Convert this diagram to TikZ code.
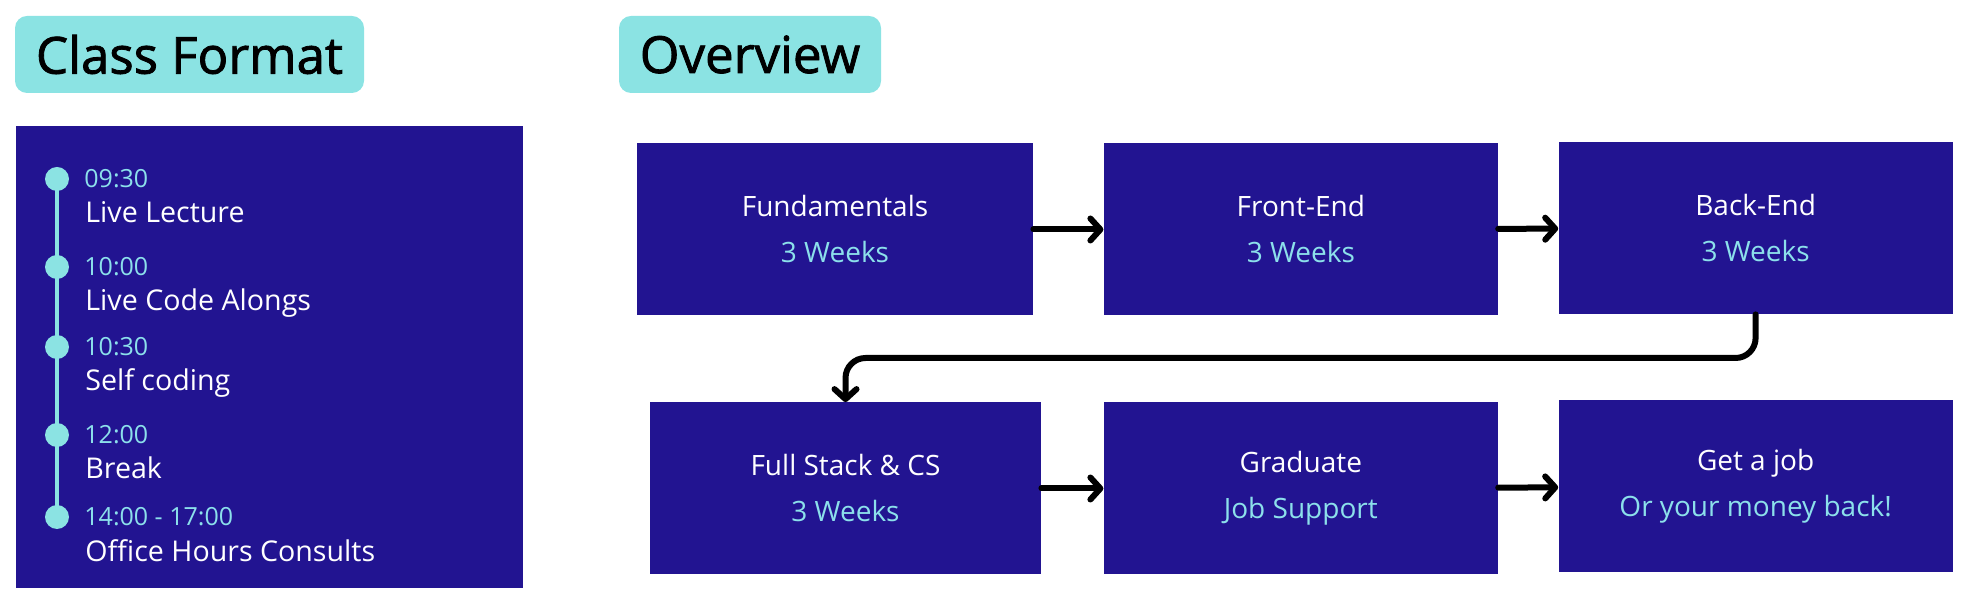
\documentclass[tikz,border=0pt]{standalone}
\usepackage{fontspec}
\setmainfont{Open Sans}
\newfontfamily\headfont{Open Sans}[FakeBold=1.6]
\usetikzlibrary{positioning,arrows.meta}
\definecolor{navy}{RGB}{34,20,145}
\definecolor{aqua}{RGB}{139,227,227}
\definecolor{skytext}{RGB}{140,224,235}

\begin{document}
\begin{tikzpicture}
[x=0.5pt, y=-0.5pt,
 every node/.style = {inner sep=0pt},
 header/.style = {fill=aqua, rounded corners=6pt, minimum height=38.5pt,
   font=\headfont\fontsize{25.5}{30}\selectfont},
 stage/.style = {fill=navy, minimum width=197pt, minimum height=86pt,
   text=white, align=center, font=\fontsize{14}{23}\selectfont},
 flow/.style = {line width=3pt, line cap=round, line join=round,
   -{Straight Barb[round, length=5pt, width=11pt]}},
 dot/.style = {circle, fill=aqua, minimum size=12pt},
 slot/.style = {anchor=base west, text=skytext, font=\fontsize{12.5}{15}\selectfont},
 task/.style = {anchor=base west, text=white, font=\fontsize{14.3}{17}\selectfont}]
  \useasboundingbox (0,0) rectangle (1968,597);

  % headings
  \node[header, minimum width=174.5pt] (classfmt) at (189.5,54.5) {Class Format};
  \node[header, minimum width=131pt] (overview) at (750,54.5) {Overview};

  % class format timeline
  \node[fill=navy, minimum width=253.5pt, minimum height=231pt] (panel) at (269.5,357) {};
  \draw[aqua, line width=2pt] (57,179) -- (57,517);
  \foreach \y/\t/\l in {179/09:30/Live Lecture, 267/10:00/Live Code Alongs,
      347/10:30/Self coding, 435/12:00/Break, 517/14:00 - 17:00/Office Hours Consults}
  {
    \node[dot] (dot\y) at (57,\y) {};
    \node[slot] at (84,\y+9) {\t};
    \node[task] at (85,\y+44) {\l};
  }

  % overview
  \node[stage, minimum width=198pt] (fund) at (835,229.5) {Fundamentals\\\textcolor{skytext}{3 Weeks}};
  \node[stage, right=35pt of fund] (front) {Front-End\\\textcolor{skytext}{3 Weeks}};
  \node[stage, right=30pt of front, yshift=0.75pt] (back) {Back-End\\\textcolor{skytext}{3 Weeks}};
  \node[stage, minimum width=195.5pt] (full) at (845.5,488.5) {Full Stack \& CS\\\textcolor{skytext}{3 Weeks}};
  \node[stage, right=31pt of full] (grad) {Graduate\\\textcolor{skytext}{Job Support}};
  \node[stage, right=30pt of grad, yshift=1pt] (job) {Get a job\\\textcolor{skytext}{Or your money back!}};

  \coordinate (turn) at (0,358);
  \draw[flow] (fund) -- (front);
  \draw[flow] (front) -- (back);
  \draw[flow, rounded corners=10pt] (back.south) -- (back.south |- turn) -| (full.north);
  \draw[flow] (full) -- (grad);
  \draw[flow] (grad) -- (job);
\end{tikzpicture}
\end{document}
